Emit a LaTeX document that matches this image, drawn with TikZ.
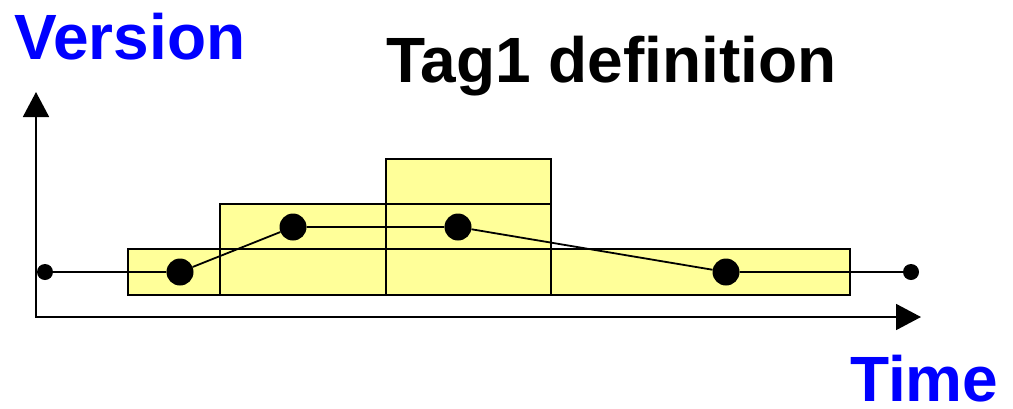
\documentclass[tikz,border=0pt]{standalone}
\usepackage{fontspec}
\setmainfont{Liberation Sans}
\usetikzlibrary{arrows.meta}
\definecolor{tagyellow}{RGB}{255,255,153}
\definecolor{labelblue}{RGB}{0,0,255}

\begin{document}
\begin{tikzpicture}[x=1pt,y=-1pt,line join=miter,
    bigdot/.style={circle,fill=black,inner sep=0pt,minimum size=27pt},
    smalldot/.style={circle,fill=black,inner sep=0pt,minimum size=16pt},
    axis/.style={line width=1.8pt,{Triangle[length=25pt,width=26pt]}-{Triangle[length=25pt,width=26pt]}},
    bar/.style={line width=1.8pt},
    big label/.style={font=\fontsize{64}{64}\selectfont\bfseries,inner sep=0pt,anchor=base west}]
  \useasboundingbox (0,0) rectangle (1013,408);

  % axes
  \coordinate (vend) at (36,92);
  \coordinate (origin) at (36,317);
  \coordinate (tend) at (921,317);
  \draw[axis] (vend) -- (origin) -- (tend);

  % tag spans
  \fill[tagyellow] (128,249) rectangle (850,295);
  \fill[tagyellow] (220,204) rectangle (551,295);
  \fill[tagyellow] (386,159) rectangle (551,295);
  \draw[bar] (128,249) rectangle (850,295);
  \draw[bar] (220,204) rectangle (551,295);
  \draw[bar] (386,159) rectangle (551,295);

  % versions
  \node[smalldot] (s0) at (45,272) {};
  \node[bigdot] (v1) at (180,272) {};
  \node[bigdot] (v2) at (293,227) {};
  \node[bigdot] (v3) at (458,227) {};
  \node[bigdot] (v4) at (726,272) {};
  \node[smalldot] (s5) at (911,272) {};
  \draw[bar] (s0) -- (v1) -- (v2) -- (v3) -- (v4) -- (s5);

  % labels
  \node[big label,text=labelblue] (version) at (14,59) {Version};
  \node[big label] (title) at (386,82) {Tag1 definition};
  \node[big label,text=labelblue,text depth=0pt] (time) at (850,401) {Time};
\end{tikzpicture}
\end{document}
